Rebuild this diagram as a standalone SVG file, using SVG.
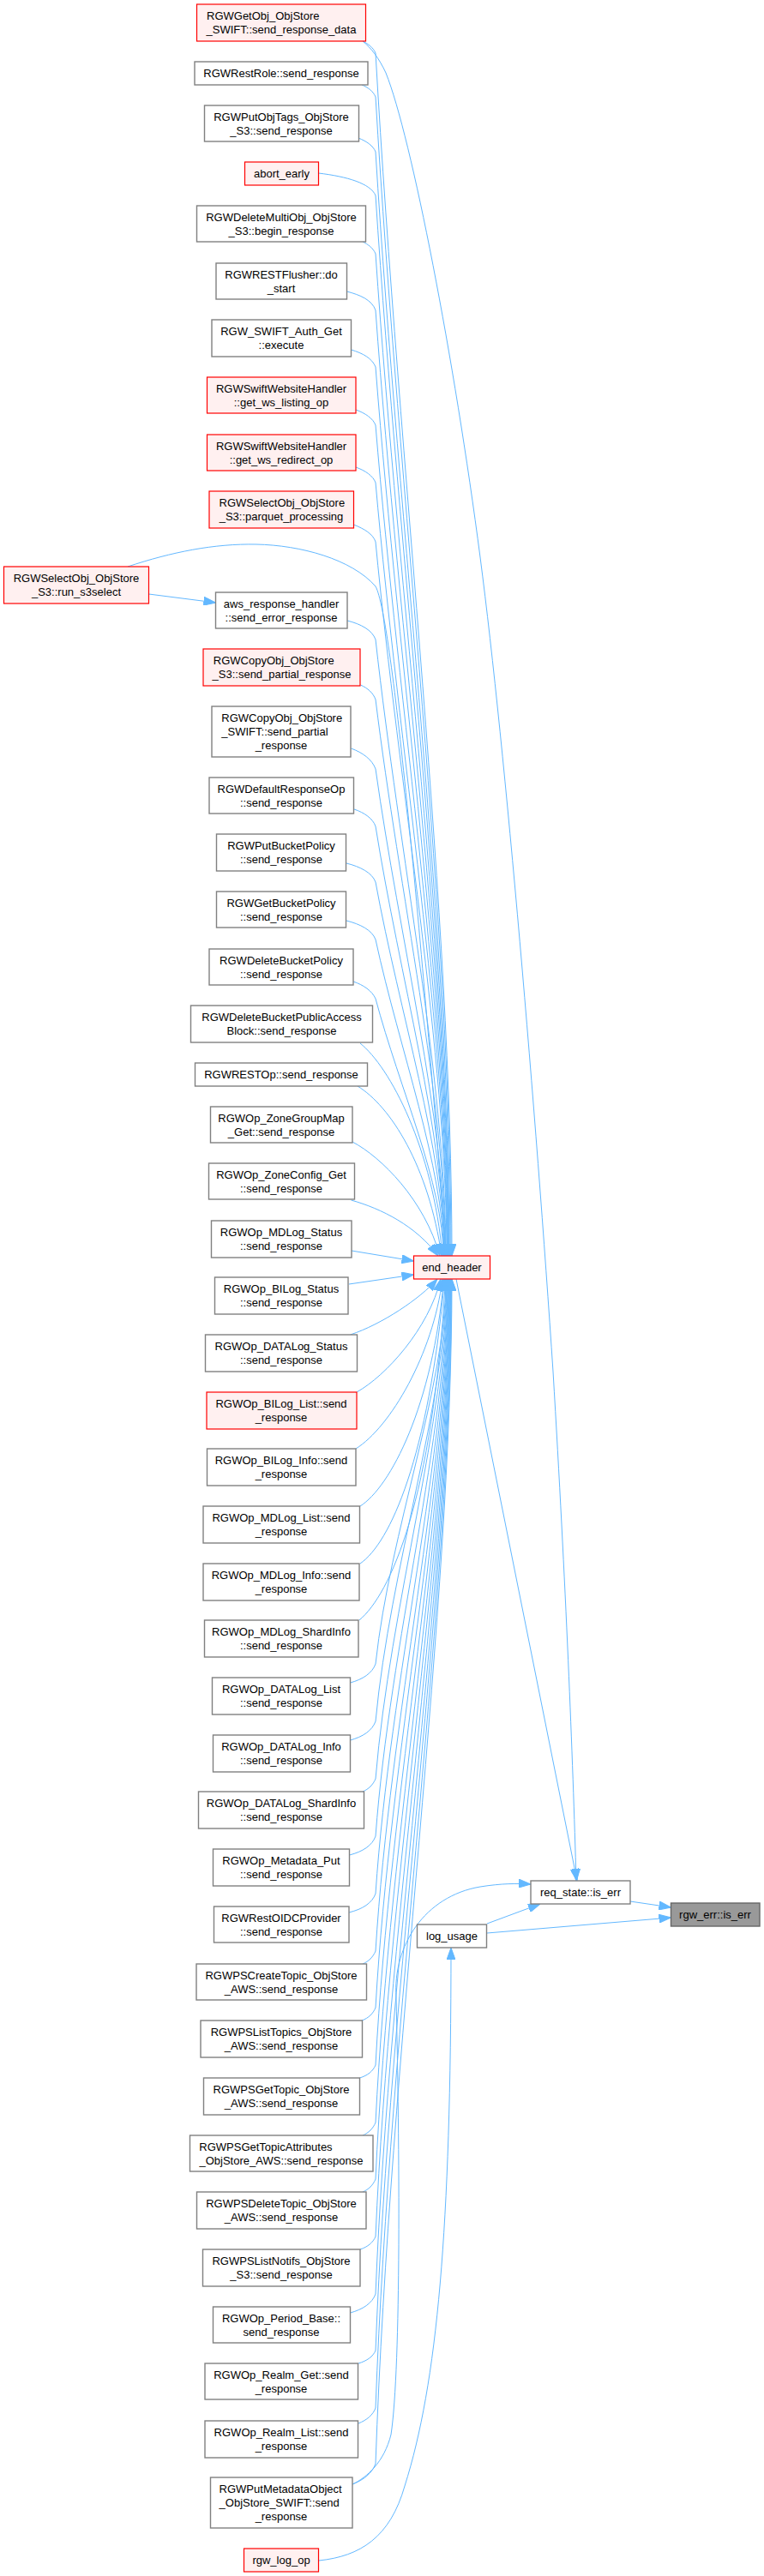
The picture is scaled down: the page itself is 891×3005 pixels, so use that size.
<svg xmlns="http://www.w3.org/2000/svg" width="891" height="3005" viewBox="0 0 891 3005">
<defs>
<marker id="ah" viewBox="0 0 14 10" refX="14" refY="5" markerWidth="14" markerHeight="10" markerUnits="userSpaceOnUse" orient="auto">
<path d="M0,0 L14,5 L0,10 z" fill="#63B8FF" stroke="#63B8FF" stroke-width="1"/>
</marker>
<style>
.n rect{fill:#ffffff;stroke:#808080;stroke-width:1.4}
.r rect{fill:#FFF0F0;stroke:#FF0000;stroke-width:1.2}
.root rect{fill:#999999;stroke:#666666;stroke-width:1.4}
text{font-family:"Liberation Sans",Arial,sans-serif;font-size:13px;fill:#000000}
.m{text-anchor:middle}
.e{fill:none;stroke:#63B8FF;stroke-width:1;marker-end:url(#ah)}
</style>
</defs>
<rect x="0" y="0" width="891" height="3005" fill="#ffffff"/>
<g id="edges">
<path class="e" d="M423,48 C429,51 435,55 438,62 C466,553 527,1072 527,1465"/>
<path class="e" d="M422,99 C429,102 435,106 438,113 C466,586 526,1086 526,1465"/>
<path class="e" d="M418,161 C428,165 435,170 438,177 C466,628 525,1104 525,1465"/>
<path class="e" d="M371.5,202 C405,206 432,214 438,228 C466,661 524,1119 524,1465"/>
<path class="e" d="M423,282 C429,285 435,289 438,296 C466,705 523.5,1138 523.5,1465"/>
<path class="e" d="M404.5,340 C420,344 434,350 438,362 C466,748 523,1156 523,1465"/>
<path class="e" d="M409.5,408 C423,412 434,418 438,428 C466,791 522.5,1175 522.5,1465"/>
<path class="e" d="M415,478 C426,482 435,488 438,496 C466,835 522,1194 522,1465"/>
<path class="e" d="M415,545 C426,549 435,555 438,563 C466,879 521.5,1212 521.5,1465"/>
<path class="e" d="M412.5,612 C425,617 435,623 438,632 C466,924 521,1232 521,1465"/>
<path class="e" d="M149,661 C200,644 250,634 299,635 C350,636 410,652 438,684 C458,720 492,1100 520.5,1465"/>
<path class="e" d="M173.5,693 L251.5,703"/>
<path class="e" d="M405,724 C421,728 434,735 438,746 C466,998 520,1264 520,1465"/>
<path class="e" d="M420.5,799 C429,803 435,808 438,816 C466,1043 519.5,1283 519.5,1465"/>
<path class="e" d="M409.5,873 C423,878 434,886 438,897 C466,1096 519,1306 519,1465"/>
<path class="e" d="M413,944 C425,948 435,955 438,964 C466,1139 518.5,1325 518.5,1465"/>
<path class="e" d="M404,1007 C420,1011 434,1018 438,1029 C466,1182 518,1343 518,1465"/>
<path class="e" d="M404,1074 C420,1078 434,1085 438,1096 C466,1225 517.5,1362 517.5,1465"/>
<path class="e" d="M412,1145 C424,1149 434,1156 438,1165 C466,1270 517,1381 517,1465"/>
<path class="e" d="M420,1217 C455,1245 505,1340 516,1465"/>
<path class="e" d="M417,1267 C455,1290 500,1360 515,1465"/>
<path class="e" d="M411,1332 C445,1350 495,1400 513,1465"/>
<path class="e" d="M409.5,1400 C445,1410 485,1430 511,1465"/>
<path class="e" d="M410,1459 L482.5,1471"/>
<path class="e" d="M407,1498 L482.5,1487"/>
<path class="e" d="M408.5,1557 C445,1545 490,1515 510,1492"/>
<path class="e" d="M416,1624 C450,1605 500,1550 514,1492"/>
<path class="e" d="M415,1690 C455,1665 505,1580 516,1492"/>
<path class="e" d="M420,1757 C455,1735 505,1640 517.5,1492"/>
<path class="e" d="M420,1824 C455,1800 500,1700 518.5,1492"/>
<path class="e" d="M419,1890 C455,1860 505,1750 519.5,1492"/>
<path class="e" d="M408.5,1963 C423,1959 434,1952 438,1941 C455,1784 520,1618 520,1492"/>
<path class="e" d="M408.5,2030 C423,2026 434,2019 438,2008 C455,1827 520.5,1636 520.5,1492"/>
<path class="e" d="M423,2090 C430,2087 435,2082 438,2075 C455,1871 521,1655 521,1492"/>
<path class="e" d="M407.5,2164 C423,2160 434,2153 438,2142 C455,1914 521.5,1674 521.5,1492"/>
<path class="e" d="M407,2231 C423,2227 434,2220 438,2209 C455,1958 522,1693 522,1492"/>
<path class="e" d="M423,2291 C430,2288 435,2283 438,2276 C455,2002 522.5,1712 522.5,1492"/>
<path class="e" d="M422,2357 C430,2354 435,2349 438,2342 C455,2044 523,1730 523,1492"/>
<path class="e" d="M419.5,2424 C429,2421 435,2416 438,2409 C455,2088 523.5,1749 523.5,1492"/>
<path class="e" d="M423,2491 C430,2488 435,2483 438,2476 C455,2132 524,1768 524,1492"/>
<path class="e" d="M423,2557 C430,2554 435,2549 438,2542 C455,2174 524.5,1786 524.5,1492"/>
<path class="e" d="M420,2624 C429,2621 435,2616 438,2609 C455,2218 525,1805 525,1492"/>
<path class="e" d="M408.5,2698 C423,2694 434,2687 438,2676 C455,2262 525.5,1824 525.5,1492"/>
<path class="e" d="M418,2757 C428,2754 435,2749 438,2742 C455,2304 526,1842 526,1492"/>
<path class="e" d="M418,2827 C428,2823 435,2817 438,2809 C455,2348 526.5,1861 526.5,1492"/>
<path class="e" d="M411,2898 C424,2893 434,2885 438,2874 C455,2390 527,1879 527,1492"/>
<path class="e" d="M532,1492 L673,2194"/>
<path class="e" d="M423,48 C433,56 442,68 450,85 C480,160 530,420 560,650 C590,880 625,1300 645,1600 C660,1850 668,2050 672,2194"/>
<path class="e" d="M411,2898 C428,2890 448,2872 456,2840 C468,2760 466,2500 462,2330 C458,2270 495,2212 560,2201 C585,2197 603,2197 619,2198"/>
<path class="e" d="M568,2244 L630,2221"/>
<path class="e" d="M568,2255 L782.5,2237"/>
<path class="e" d="M735,2218 L782.5,2225"/>
<path class="e" d="M372,2987 C420,2982 455,2960 472,2900 C510,2780 526,2600 526,2272"/>
</g>
<g id="n1" class="r"><rect x="229.5" y="5" width="197" height="43"/><text x="241" y="23">RGWGetObj_ObjStore</text><text class="m" x="328" y="39">_SWIFT::send_response_data</text></g>
<g id="n2" class="n"><rect x="227" y="72" width="202" height="27"/><text class="m" x="328" y="90">RGWRestRole::send_response</text></g>
<g id="n3" class="n"><rect x="238.5" y="123" width="180" height="42"/><text class="m" x="328" y="140.5">RGWPutObjTags_ObjStore</text><text class="m" x="328" y="156.5">_S3::send_response</text></g>
<g id="n4" class="r"><rect x="285.5" y="189" width="86" height="27"/><text class="m" x="328.5" y="207">abort_early</text></g>
<g id="n5" class="n"><rect x="229.5" y="240" width="197" height="42"/><text class="m" x="328" y="257.5">RGWDeleteMultiObj_ObjStore</text><text class="m" x="328" y="273.5">_S3::begin_response</text></g>
<g id="n6" class="n"><rect x="252" y="307" width="152.5" height="42"/><text class="m" x="328" y="324.5">RGWRESTFlusher::do</text><text class="m" x="328" y="340.5">_start</text></g>
<g id="n7" class="n"><rect x="247" y="373" width="162.5" height="43"/><text class="m" x="328" y="391">RGW_SWIFT_Auth_Get</text><text class="m" x="328" y="407">::execute</text></g>
<g id="n8" class="r"><rect x="241.5" y="440" width="173.5" height="42"/><text class="m" x="328" y="457.5">RGWSwiftWebsiteHandler</text><text class="m" x="328" y="473.5">::get_ws_listing_op</text></g>
<g id="n9" class="r"><rect x="241.5" y="507" width="173.5" height="42"/><text class="m" x="328" y="524.5">RGWSwiftWebsiteHandler</text><text class="m" x="328" y="540.5">::get_ws_redirect_op</text></g>
<g id="n10" class="r"><rect x="244" y="573" width="168.5" height="43"/><text x="255.5" y="591">RGWSelectObj_ObjStore</text><text class="m" x="328" y="607">_S3::parquet_processing</text></g>
<g id="n11" class="r"><rect x="4.5" y="661" width="169" height="43"/><text class="m" x="89" y="679">RGWSelectObj_ObjStore</text><text class="m" x="89" y="695">_S3::run_s3select</text></g>
<g id="n12" class="n"><rect x="251.5" y="691" width="153.5" height="42"/><text class="m" x="328" y="708.5">aws_response_handler</text><text class="m" x="328" y="724.5">::send_error_response</text></g>
<g id="n13" class="r"><rect x="237" y="757" width="183" height="43"/><text x="248.8" y="775">RGWCopyObj_ObjStore</text><text class="m" x="328.5" y="791">_S3::send_partial_response</text></g>
<g id="n14" class="n"><rect x="247" y="824" width="162" height="59"/><text x="258.3" y="842">RGWCopyObj_ObjStore</text><text x="258.3" y="858">_SWIFT::send_partial</text><text class="m" x="328" y="874">_response</text></g>
<g id="n15" class="n"><rect x="244" y="907" width="168.5" height="42"/><text class="m" x="328" y="924.5">RGWDefaultResponseOp</text><text class="m" x="328" y="940.5">::send_response</text></g>
<g id="n16" class="n"><rect x="252.5" y="973" width="151" height="43"/><text class="m" x="328" y="991">RGWPutBucketPolicy</text><text class="m" x="328" y="1007">::send_response</text></g>
<g id="n17" class="n"><rect x="252.5" y="1040" width="151" height="42"/><text class="m" x="328" y="1057.5">RGWGetBucketPolicy</text><text class="m" x="328" y="1073.5">::send_response</text></g>
<g id="n18" class="n"><rect x="244" y="1107" width="168" height="42"/><text class="m" x="328" y="1124.5">RGWDeleteBucketPolicy</text><text class="m" x="328" y="1140.5">::send_response</text></g>
<g id="n19" class="n"><rect x="222.5" y="1173" width="212" height="43"/><text class="m" x="328.5" y="1191">RGWDeleteBucketPublicAccess</text><text class="m" x="328.5" y="1207">Block::send_response</text></g>
<g id="n20" class="n"><rect x="227.5" y="1240" width="201" height="27"/><text class="m" x="328" y="1258">RGWRESTOp::send_response</text></g>
<g id="n21" class="n"><rect x="245.5" y="1291" width="165.5" height="42"/><text class="m" x="328" y="1308.5">RGWOp_ZoneGroupMap</text><text class="m" x="328" y="1324.5">_Get::send_response</text></g>
<g id="n22" class="n"><rect x="243.5" y="1357" width="170" height="42"/><text class="m" x="328" y="1374.5">RGWOp_ZoneConfig_Get</text><text class="m" x="328" y="1390.5">::send_response</text></g>
<g id="n23" class="n"><rect x="246.5" y="1424" width="163.5" height="43"/><text class="m" x="328" y="1442">RGWOp_MDLog_Status</text><text class="m" x="328" y="1458">::send_response</text></g>
<g id="n24" class="n"><rect x="250.5" y="1490" width="155.5" height="43"/><text class="m" x="328" y="1508">RGWOp_BILog_Status</text><text class="m" x="328" y="1524">::send_response</text></g>
<g id="n25" class="n"><rect x="239.5" y="1557" width="177" height="43"/><text class="m" x="328" y="1575">RGWOp_DATALog_Status</text><text class="m" x="328" y="1591">::send_response</text></g>
<g id="n26" class="r"><rect x="241" y="1624" width="175" height="43"/><text class="m" x="328" y="1642">RGWOp_BILog_List::send</text><text class="m" x="328" y="1658">_response</text></g>
<g id="end_header" class="r"><rect x="482.5" y="1465" width="89" height="27"/><text class="m" x="527" y="1483">end_header</text></g>
<g id="n27" class="n"><rect x="241.5" y="1690" width="173.5" height="43"/><text class="m" x="328" y="1708">RGWOp_BILog_Info::send</text><text class="m" x="328" y="1724">_response</text></g>
<g id="n28" class="n"><rect x="237" y="1757" width="182.5" height="43"/><text class="m" x="328" y="1775">RGWOp_MDLog_List::send</text><text class="m" x="328" y="1791">_response</text></g>
<g id="n29" class="n"><rect x="237" y="1824" width="182" height="43"/><text class="m" x="328" y="1842">RGWOp_MDLog_Info::send</text><text class="m" x="328" y="1858">_response</text></g>
<g id="n30" class="n"><rect x="238.5" y="1890" width="179.5" height="43"/><text class="m" x="328" y="1908">RGWOp_MDLog_ShardInfo</text><text class="m" x="328" y="1924">::send_response</text></g>
<g id="n31" class="n"><rect x="247.5" y="1957" width="161" height="43"/><text class="m" x="328" y="1975">RGWOp_DATALog_List</text><text class="m" x="328" y="1991">::send_response</text></g>
<g id="n32" class="n"><rect x="248.5" y="2024" width="160" height="43"/><text class="m" x="328" y="2042">RGWOp_DATALog_Info</text><text class="m" x="328" y="2058">::send_response</text></g>
<g id="n33" class="n"><rect x="231.5" y="2090" width="193" height="43"/><text class="m" x="328" y="2108">RGWOp_DATALog_ShardInfo</text><text class="m" x="328" y="2124">::send_response</text></g>
<g id="n34" class="n"><rect x="248.5" y="2157" width="159" height="43"/><text class="m" x="328" y="2175">RGWOp_Metadata_Put</text><text class="m" x="328" y="2191">::send_response</text></g>
<g id="n35" class="n"><rect x="249.5" y="2224" width="157.5" height="42"/><text class="m" x="328" y="2241.5">RGWRestOIDCProvider</text><text class="m" x="328" y="2257.5">::send_response</text></g>
<g id="n36" class="n"><rect x="229" y="2291" width="198.5" height="42"/><text class="m" x="328" y="2308.5">RGWPSCreateTopic_ObjStore</text><text class="m" x="328" y="2324.5">_AWS::send_response</text></g>
<g id="n37" class="n"><rect x="234" y="2357" width="188.5" height="43"/><text class="m" x="328" y="2375">RGWPSListTopics_ObjStore</text><text class="m" x="328" y="2391">_AWS::send_response</text></g>
<g id="n38" class="n"><rect x="237.5" y="2424" width="182" height="43"/><text class="m" x="328" y="2442">RGWPSGetTopic_ObjStore</text><text class="m" x="328" y="2458">_AWS::send_response</text></g>
<g id="n39" class="n"><rect x="221.5" y="2491" width="213.5" height="42"/><text x="232.3" y="2508.5">RGWPSGetTopicAttributes</text><text class="m" x="328" y="2524.5">_ObjStore_AWS::send_response</text></g>
<g id="n40" class="n"><rect x="229.5" y="2557" width="197.5" height="43"/><text class="m" x="328" y="2575">RGWPSDeleteTopic_ObjStore</text><text class="m" x="328" y="2591">_AWS::send_response</text></g>
<g id="n41" class="n"><rect x="236.5" y="2624" width="183.5" height="43"/><text class="m" x="328" y="2642">RGWPSListNotifs_ObjStore</text><text class="m" x="328" y="2658">_S3::send_response</text></g>
<g id="n42" class="n"><rect x="248.5" y="2691" width="160" height="42"/><text class="m" x="328" y="2708.5">RGWOp_Period_Base::</text><text class="m" x="328" y="2724.5">send_response</text></g>
<g id="n43" class="n"><rect x="239" y="2757" width="178.5" height="42"/><text class="m" x="328" y="2774.5">RGWOp_Realm_Get::send</text><text class="m" x="328" y="2790.5">_response</text></g>
<g id="n44" class="n"><rect x="239" y="2824" width="178.5" height="43"/><text class="m" x="328" y="2842">RGWOp_Realm_List::send</text><text class="m" x="328" y="2858">_response</text></g>
<g id="n45" class="n"><rect x="245.5" y="2890" width="165.5" height="59"/><text x="255.6" y="2908">RGWPutMetadataObject</text><text x="255.6" y="2924">_ObjStore_SWIFT::send</text><text class="m" x="328" y="2940">_response</text></g>
<g id="n46" class="r"><rect x="284.5" y="2973" width="87" height="27"/><text class="m" x="328" y="2991">rgw_log_op</text></g>
<g id="req_state" class="n"><rect x="619" y="2194" width="116" height="27"/><text class="m" x="677" y="2212">req_state::is_err</text></g>
<g id="rgw_err" class="root"><rect x="782.5" y="2220" width="103.5" height="27"/><text class="m" x="834" y="2238">rgw_err::is_err</text></g>
<g id="log_usage" class="n"><rect x="486.5" y="2245" width="81" height="27"/><text class="m" x="527" y="2263">log_usage</text></g>
</svg>
